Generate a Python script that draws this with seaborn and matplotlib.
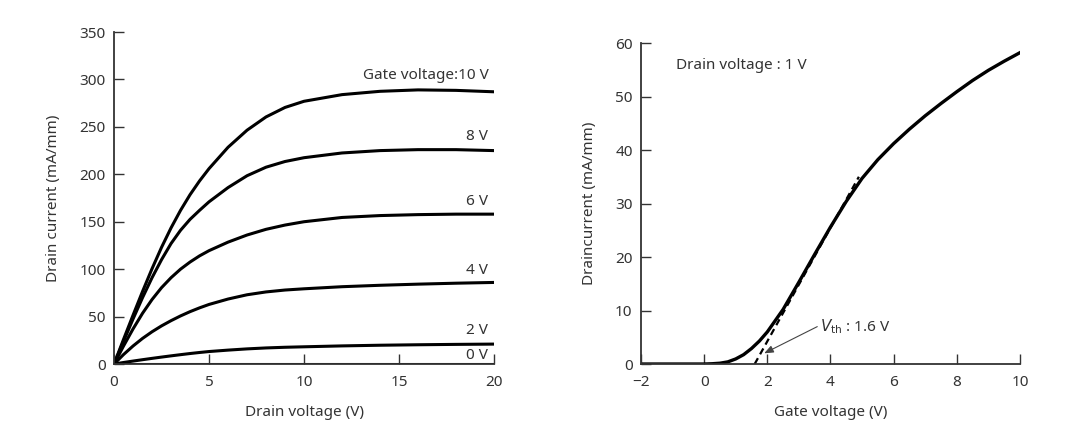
import numpy as np
import pandas as pd
import matplotlib
matplotlib.use("Agg")
import matplotlib.pyplot as plt
import seaborn as sns

# ---- data: output characteristics (drain current vs drain voltage) ----
drain_v = [0, 0.5, 1, 1.5, 2, 2.5, 3, 3.5, 4, 4.5, 5, 6, 7, 8, 9, 10, 12, 14, 16, 18, 20]
id_10v = [0, 26, 51.5, 76.5, 100.5, 123, 143.5, 162, 178.5, 193, 206, 228.5, 246.5, 260.5, 270.5, 277, 284, 287.5, 289, 288.5, 287]
id_8v = [0, 24, 47.5, 70, 91, 110, 127, 141, 152.5, 162, 171, 186, 198.5, 207.5, 213.5, 217.5, 222.5, 225, 226, 226, 225]
id_6v = [0, 19, 37, 53.5, 68, 80.5, 91, 100, 107.5, 114, 119.5, 128.5, 136, 142, 146.5, 150, 154.5, 156.5, 157.5, 158, 158]
id_4v = [0, 10, 19, 27, 34, 40.2, 45.7, 50.7, 55.2, 59.2, 62.8, 68.5, 73, 76, 78, 79.3, 81.5, 83, 84.2, 85.2, 86]
id_2v = [0, 1.6, 3.1, 4.55, 5.95, 7.3, 8.6, 9.85, 11.05, 12.15, 13.15, 14.65, 15.95, 16.95, 17.65, 18.15, 19.1, 19.8, 20.3, 20.7, 21]
id_0v = [0] * 21
gate_labels = ["Gate voltage:10 V", "8 V", "6 V", "4 V", "2 V", "0 V"]
label_y = [304, 240, 171, 99, 35, 9.5]

# ---- data: transfer characteristic (drain current vs gate voltage) ----
gate_v = [-2, -1, 0, 0.25, 0.5, 0.75, 1, 1.25, 1.5, 1.75, 2, 2.5, 3, 3.5, 4, 4.5, 5,
          5.5, 6, 6.5, 7, 7.5, 8, 8.5, 9, 9.5, 10]
id_transfer = [0, 0, 0, 0.05, 0.15, 0.4, 0.95, 1.75, 2.9, 4.3, 6.0, 10.2, 15.3, 20.5, 25.6, 30.4, 34.7,
               38.2, 41.2, 43.9, 46.4, 48.7, 50.9, 53.0, 54.9, 56.6, 58.2]
tangent_x = [1.6, 4.9]
tangent_y = [0, 35]

TXT = "#333333"
plt.rcParams['font.family'] = ['Noto Sans', 'DejaVu Sans']
plt.rcParams['text.color'] = TXT
plt.rcParams['axes.labelcolor'] = TXT
plt.rcParams['xtick.color'] = TXT
plt.rcParams['ytick.color'] = TXT

fig = plt.figure(figsize=(10.8, 4.4), dpi=100)
ax1 = fig.add_axes([0.1056, 0.1727, 0.3518, 0.7545])
ax2 = fig.add_axes([0.5935, 0.1727, 0.3509, 0.7295])

frames = []
for name, vals in zip(gate_labels, [id_10v, id_8v, id_6v, id_4v, id_2v, id_0v]):
    frames.append(pd.DataFrame({"Vd": drain_v, "Id": vals, "gate": name}))
df = pd.concat(frames)
for name in gate_labels:
    sub = df[df["gate"] == name]
    sns.lineplot(data=sub, x="Vd", y="Id", ax=ax1, color="black", lw=2.2,
                 estimator=None, sort=False, solid_joinstyle="round")
for name, yy in zip(gate_labels, label_y):
    ax1.text(19.7, yy, name, ha="right", va="center", fontsize=11, color=TXT)

ax1.set_xlim(0, 20)
ax1.set_ylim(0, 350)
ax1.set_xticks([0, 5, 10, 15, 20])
ax1.set_yticks(range(0, 351, 50))
ax1.set_xlabel("Drain voltage (V)", fontsize=11, labelpad=11)
ax1.set_ylabel("Drain current (mA/mm)", fontsize=11, labelpad=13)

dft = pd.DataFrame({"Vg": gate_v, "Id": id_transfer})
sns.lineplot(data=dft, x="Vg", y="Id", ax=ax2, color="black", lw=2.4,
             estimator=None, solid_joinstyle="round")
ax2.plot(tangent_x, tangent_y, color="black", lw=1.6, ls=(0, (3, 2)))
ax2.set_xlim(-2, 10)
ax2.set_ylim(0, 60)
ax2.set_xticks([-2, 0, 2, 4, 6, 8, 10])
ax2.set_xticklabels(["\u22122", "0", "2", "4", "6", "8", "10"])
ax2.set_yticks(range(0, 61, 10))
ax2.set_xlabel("Gate voltage (V)", fontsize=11, labelpad=11)
ax2.set_ylabel("Draincurrent (mA/mm)", fontsize=11, labelpad=13)
ax2.text(-0.88, 55.8, "Drain voltage : 1 V", ha="left", va="center", fontsize=11, color=TXT)
ax2.annotate(r"$V_{\mathrm{th}}$ : 1.6 V", xy=(1.9, 2.0), xytext=(3.67, 6.9),
             ha="left", va="center", fontsize=11, color=TXT,
             arrowprops=dict(arrowstyle="-|>,head_length=0.5,head_width=0.2", color="#444444", lw=0.8,
                             shrinkA=0, shrinkB=0, relpos=(0, 0.6)))

for ax in (ax1, ax2):
    for s in ("top", "right"):
        ax.spines[s].set_visible(False)
    for s in ("left", "bottom"):
        ax.spines[s].set_color("#333333")
        ax.spines[s].set_linewidth(1.3)
    ax.tick_params(direction="in", length=7, width=1, labelsize=11, colors=TXT)
    ax.tick_params(axis="x", pad=8)
    ax.tick_params(axis="y", pad=6)
    ax.set_facecolor("white")

fig.savefig("out.png", dpi=100, facecolor="white")
